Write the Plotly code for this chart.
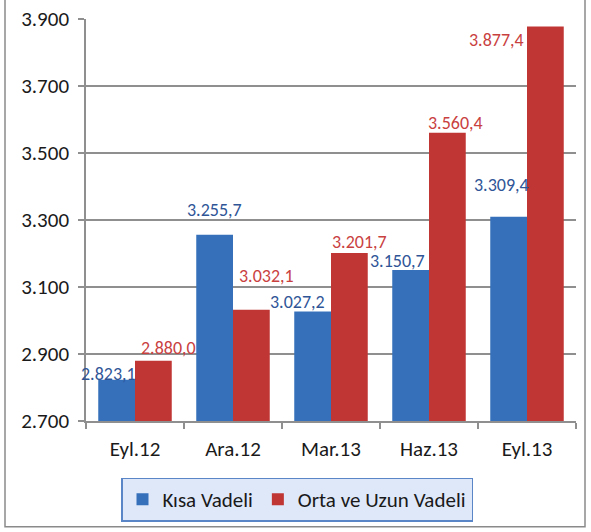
import plotly.graph_objects as go

categories = ["Eyl.12", "Ara.12", "Mar.13", "Haz.13", "Eyl.13"]
kisa_vadeli = [2823.1, 3255.7, 3027.2, 3150.7, 3309.4]
orta_uzun_vadeli = [2880.0, 3032.1, 3201.7, 3560.4, 3877.4]
y_ticks = [2700, 2900, 3100, 3300, 3500, 3700, 3900]

# label placement offsets (pixels) relative to bar centre/top
blue_dx = [-8, 0, -15, -13, -7]
blue_dy = [6, 25, 9, 9, 32]
red_dx = [15, 15, 10, 8, -49]
red_dy = [13, 34, 11, 10, -13]

BLUE = "#3670bb"
RED = "#bf3635"
BLUE_TXT = "#2f5597"
RED_TXT = "#c9413f"
FONT = "Calibri, Carlito, Open Sans, sans-serif"


def tr_fmt(v):
    s = f"{v:,.1f}"
    return s.replace(",", "X").replace(".", ",").replace("X", ".")


fig = go.Figure()
fig.add_trace(go.Bar(name="Kısa Vadeli", x=categories, y=kisa_vadeli,
                     marker=dict(color=BLUE, line=dict(width=0))))
fig.add_trace(go.Bar(name="Orta ve Uzun Vadeli", x=categories, y=orta_uzun_vadeli,
                     marker=dict(color=RED, line=dict(width=0))))

W, H = 591, 532
L, R, T, B = 86, 15, 19, 110
plot_w = W - L - R
plot_h = H - T - B
bargap = 0.25
half_bar_px = plot_w / len(categories) * (1 - bargap) / 4

annotations = []
for i, c in enumerate(categories):
    annotations.append(dict(x=c, y=kisa_vadeli[i], xref="x", yref="y", text=tr_fmt(kisa_vadeli[i]),
                            showarrow=False, xanchor="center", yanchor="middle",
                            xshift=-half_bar_px + blue_dx[i], yshift=blue_dy[i],
                            font=dict(family=FONT, size=18, color=BLUE_TXT)))
    annotations.append(dict(x=c, y=orta_uzun_vadeli[i], xref="x", yref="y", text=tr_fmt(orta_uzun_vadeli[i]),
                            showarrow=False, xanchor="center", yanchor="middle",
                            xshift=half_bar_px + red_dx[i], yshift=red_dy[i],
                            font=dict(family=FONT, size=18, color=RED_TXT)))

fig.update_layout(
    width=W, height=H,
    margin=dict(l=L, r=R, t=T, b=B),
    paper_bgcolor="white", plot_bgcolor="white",
    separators=",.",
    barmode="group", bargap=bargap, bargroupgap=0,
    font=dict(family=FONT, size=21, color="#1a1a1a"),
    annotations=annotations,
    legend=dict(orientation="h", x=(121 - L) / plot_w, y=-(477.5 - (H - B)) / plot_h,
                xanchor="left", yanchor="top",
                bgcolor="#dfe8f9", bordercolor="#5a85c6", borderwidth=1.5,
                font=dict(family=FONT, size=21, color="#1a1a1a")),
    shapes=[dict(type="rect", xref="paper", yref="paper",
                 x0=(5 - L) / plot_w, x1=(585 - L) / plot_w,
                 y0=-(528 - (H - B)) / plot_h, y1=1 + (T + 2) / plot_h,
                 line=dict(color="#8a8a8a", width=1.5), fillcolor="rgba(0,0,0,0)", layer="below")],
)
fig.update_yaxes(range=[2700, 3900], tickvals=y_ticks, tickformat=",d",
                 showgrid=True, gridcolor="#8f8f8f", gridwidth=1.5,
                 showline=True, linecolor="#8f8f8f", linewidth=1.5,
                 ticks="outside", ticklen=6, tickcolor="#8f8f8f", tickwidth=1.5,
                 ticklabelstandoff=5, zeroline=False, automargin=False)
fig.update_xaxes(range=[-0.5, len(categories) - 0.5],
                 showline=True, linecolor="#8f8f8f", linewidth=1.5,
                 ticks="outside", ticklen=6, tickcolor="#8f8f8f", tickwidth=1.5,
                 tickson="boundaries", showgrid=False, ticklabelstandoff=8, automargin=False)

fig.write_html("out.html", config={"displayModeBar": False},
               post_script="document.body.style.margin='0';")
